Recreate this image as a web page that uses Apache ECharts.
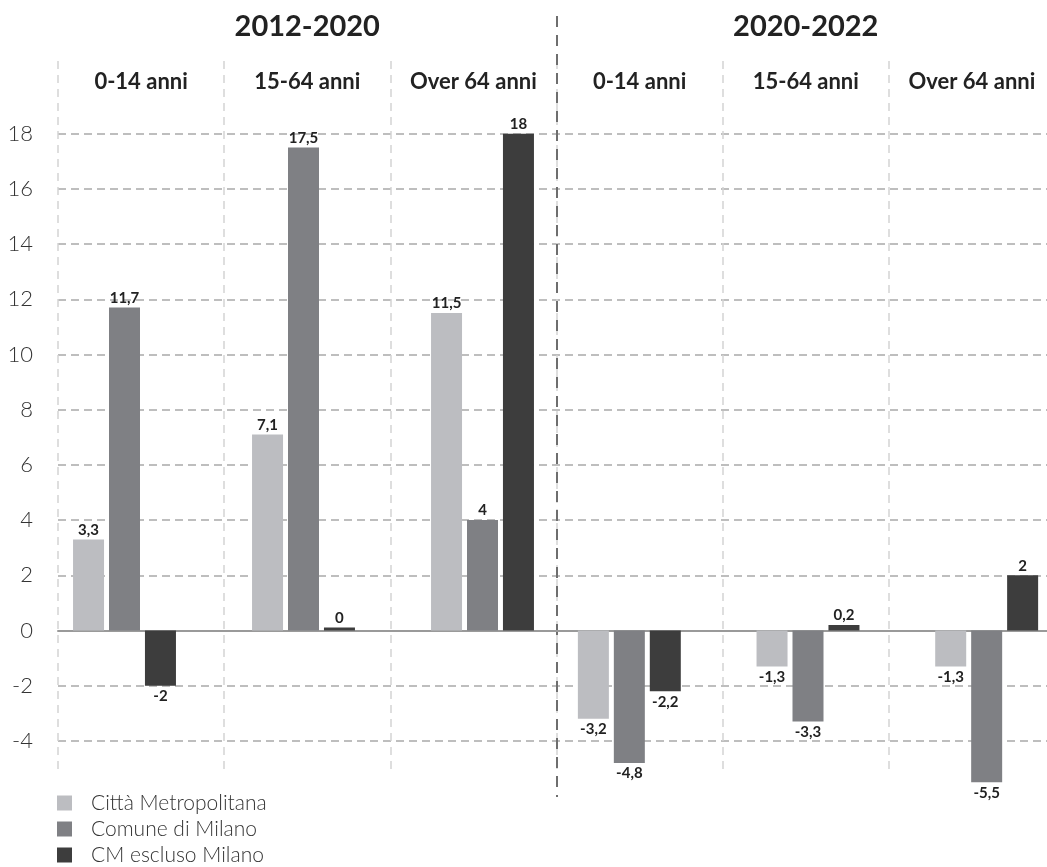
<!DOCTYPE html>
<html>
<head>
<meta charset="utf-8">
<script src="https://cdn.jsdelivr.net/npm/echarts@6/dist/echarts.min.js"></script>
<style>
html,body{margin:0;padding:0;background:#fff;overflow:hidden;}
#chart{width:1090px;height:867px;}
</style>
</head>
<body>
<div id="chart"></div>
<script>
// ---- data ----
const periods = ['2012-2020', '2020-2022'];
const ageGroups = ['0-14 anni', '15-64 anni', 'Over 64 anni'];
const categories = ageGroups.concat(ageGroups);
const seriesNames = ['Città Metropolitana', 'Comune di Milano', 'CM escluso Milano'];
const cittaMetropolitana = [3.3, 7.1, 11.5, -3.2, -1.3, -1.3];
const comuneMilano = [11.7, 17.5, 4, -4.8, -3.3, -5.5];
const cmEsclusoMilano = [-2, 0, 18, -2.2, 0.2, 2];
const yMin = -4, yMax = 18, yStep = 2;
const barsMin = -6; // bar grids extend below the lowest tick

const seriesValues = [cittaMetropolitana, comuneMilano, cmEsclusoMilano];
const colors = ['#bcbdc1', '#7f8084', '#3d3d3d'];
const FONT = 'Lato, "Noto Sans", sans-serif';

const plotTop = 133.7, unitPx = 27.6;
const plotHeight = (yMax - yMin) * unitPx;
const barsHeight = (yMax - barsMin) * unitPx;

function items(arr) {
  return arr.map(v => ({
    value: v,
    label: { position: v < 0 ? 'bottom' : 'top', distance: v < 0 ? 3 : 2 }
  }));
}

const series = [];
seriesNames.forEach((name, s) => {
  [0, 1].forEach(p => {
    series.push({
      name: name,
      type: 'bar',
      xAxisIndex: 1 + p,
      yAxisIndex: 1 + p,
      barWidth: 31,
      barGap: '16%',
      barMinHeight: 3,
      itemStyle: { color: colors[s] },
      label: {
        show: true,
        fontFamily: FONT,
        fontWeight: 'bold',
        fontSize: 15,
        color: '#222',
        formatter: prm => String(prm.value).replace('.', ',')
      },
      data: items(seriesValues[s].slice(p * 3, p * 3 + 3))
    });
  });
});

const hiddenY = (gi) => ({ type: 'value', gridIndex: gi, min: barsMin, max: yMax, show: false, splitLine: { show: false } });

const option = {
  animation: false,
  backgroundColor: '#fff',
  grid: [
    { left: 58, width: 997, top: plotTop, height: plotHeight },
    { left: 35, width: 537, top: plotTop, height: barsHeight },
    { left: 540, width: 536, top: plotTop, height: barsHeight },
    { left: 58, width: 997, top: 61, height: 712 },
    { left: 58, width: 997, top: 16, height: 781 }
  ],
  legend: {
    orient: 'vertical',
    left: 57,
    top: 792,
    padding: 0,
    height: 75,
    icon: 'rect',
    itemWidth: 15,
    itemHeight: 15,
    itemGap: 4,
    data: seriesNames,
    textStyle: {
      fontFamily: FONT,
      fontSize: 21,
      fontWeight: 300,
      color: '#333',
      lineHeight: 22,
      padding: [0, 0, 0, 14]
    }
  },
  xAxis: [
    {
      type: 'category', gridIndex: 0, data: categories,
      axisLine: { show: true, onZero: true, lineStyle: { color: '#9a9a9a', width: 2 } },
      axisTick: { show: false }, axisLabel: { show: false }, splitLine: { show: false }
    },
    { type: 'category', gridIndex: 1, data: ageGroups, show: false },
    { type: 'category', gridIndex: 2, data: ageGroups, show: false },
    {
      type: 'category', gridIndex: 3, data: categories, position: 'top',
      axisLine: { show: false }, axisTick: { show: false },
      axisLabel: {
        inside: true, interval: 0, margin: 9,
        fontFamily: FONT, fontWeight: 'bold', fontSize: 22, color: '#222', lineHeight: 24
      },
      splitLine: { show: true, interval: 0, lineStyle: { color: '#d3d3d3', type: [8, 6], width: 1.5 } }
    },
    {
      type: 'category', gridIndex: 4, data: periods, position: 'top',
      axisLine: { show: false }, axisTick: { show: false },
      axisLabel: {
        inside: true, interval: 0, margin: 0,
        fontFamily: FONT, fontWeight: 'bold', fontSize: 29, color: '#222', lineHeight: 22
      },
      splitLine: {
        show: true, interval: 0, showMinLine: false, showMaxLine: false,
        lineStyle: { color: '#6e6e6e', type: [11, 8], width: 2 }
      }
    }
  ],
  yAxis: [
    {
      type: 'value', gridIndex: 0, min: yMin, max: yMax, interval: yStep,
      axisLine: { show: false }, axisTick: { show: false },
      axisLabel: { margin: 25, fontFamily: FONT, fontSize: 22, fontWeight: 300, color: '#333' },
      splitLine: { show: true, lineStyle: { color: '#a9a9a9', type: [8, 5], width: 1.5 } }
    },
    hiddenY(1), hiddenY(2),
    { type: 'value', gridIndex: 3, show: false, splitLine: { show: false } },
    { type: 'value', gridIndex: 4, show: false, splitLine: { show: false } }
  ],
  series: series
};

const chart = echarts.init(document.getElementById('chart'), null, { renderer: 'canvas' });
chart.setOption(option);
</script>
</body>
</html>
